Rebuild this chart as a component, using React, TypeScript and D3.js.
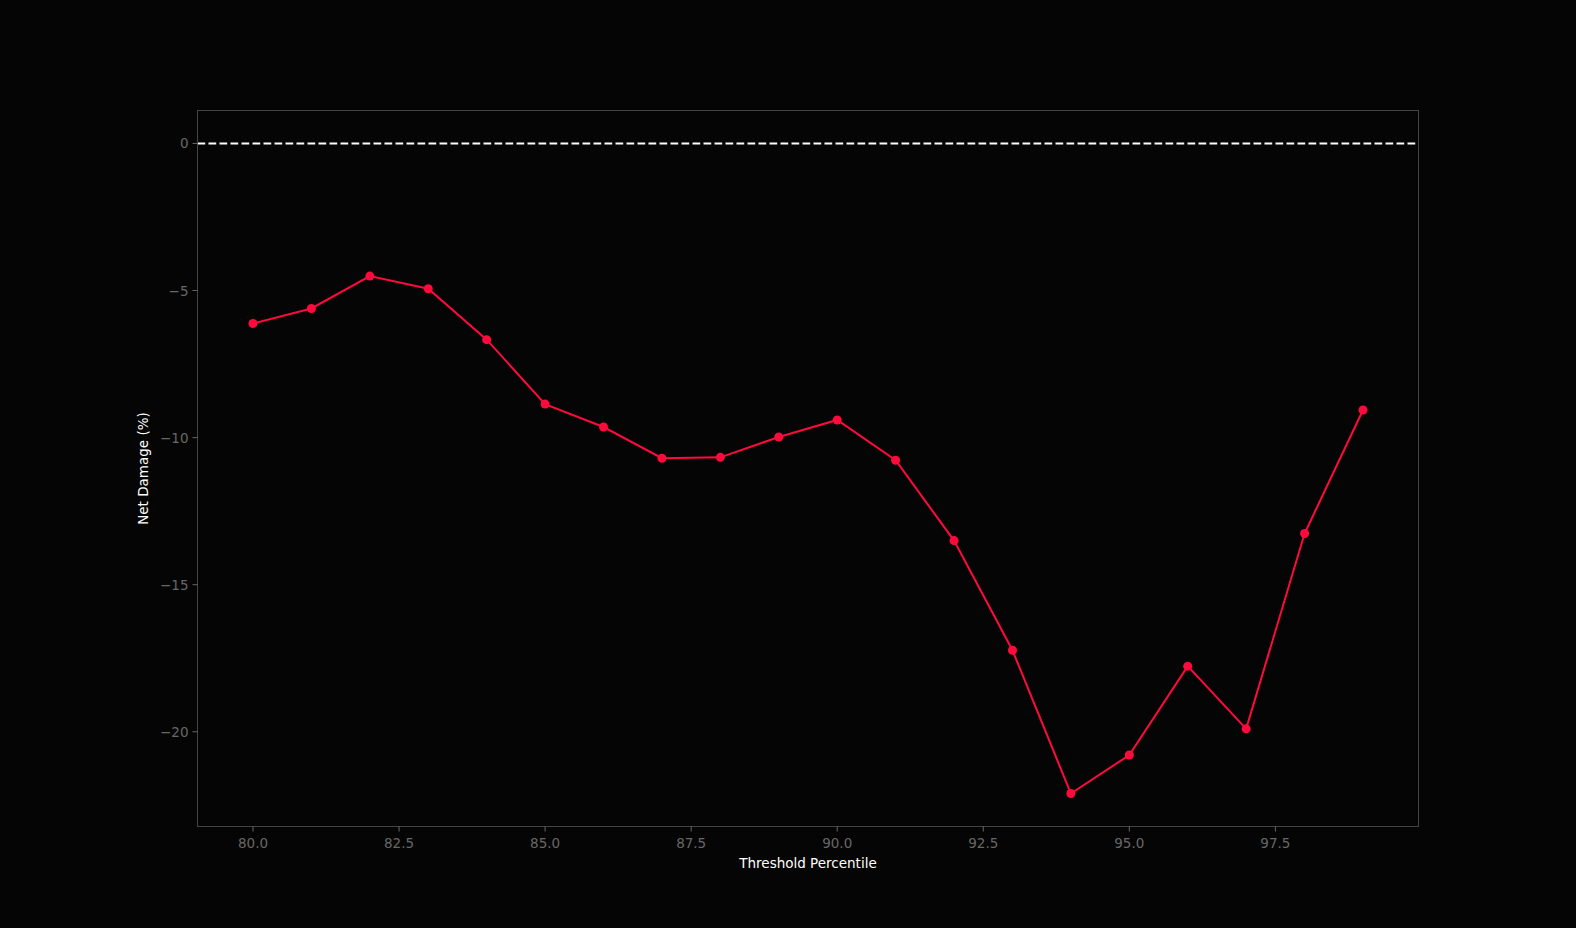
import React from "react";
import * as d3 from "d3";

const percentiles = [80, 81, 82, 83, 84, 85, 86, 87, 88, 89, 90, 91, 92, 93, 94, 95, 96, 97, 98, 99];
const netDamage = [-6.12, -5.61, -4.51, -4.94, -6.67, -8.86, -9.64, -10.70, -10.67, -9.98, -9.40, -10.77, -13.50, -17.23, -22.10, -20.79, -17.77, -19.90, -13.26, -9.06];
const xTicks = [80, 82.5, 85, 87.5, 90, 92.5, 95, 97.5];
const yTicks = [0, -5, -10, -15, -20];

const W = 1576, H = 928;
const L = 197.5, R = 1418.5, T = 110.5, B = 826.5;

export default function App() {
  const x = d3.scaleLinear().domain([79.05, 99.95]).range([L, R]);
  const y = d3.scaleLinear().domain([-23.22, 1.12]).range([B, T]);
  const line = d3.line<number>().x((_, i) => x(percentiles[i])).y((d) => y(d));
  const font = "DejaVu Sans, sans-serif";
  const tickColor = "#686868";
  const spine = "#444444";
  const red = "#ff0a3c";
  return (
    <svg width={W} height={H} style={{ position: "fixed", left: 0, top: 0, background: "#050505" }}>
      <rect x={0} y={0} width={W} height={H} fill="#050505" />
      <line x1={L} x2={R} y1={y(0)} y2={y(0)} stroke="#ffffff" strokeWidth={2} strokeDasharray="7.7 3.3" />
      <path d={line(netDamage) || ""} fill="none" stroke={red} strokeWidth={2} />
      {netDamage.map((v, i) => (
        <circle key={i} cx={x(percentiles[i])} cy={y(v)} r={4.5} fill={red} />
      ))}
      <rect x={L} y={T} width={R - L} height={B - T} fill="none" stroke={spine} strokeWidth={1} />
      {xTicks.map((t) => (
        <g key={t}>
          <line x1={x(t)} x2={x(t)} y1={B} y2={B + 5} stroke={tickColor} strokeWidth={1} />
          <text x={x(t)} y={B + 21} textAnchor="middle" fill={tickColor} fontSize={13.5} fontFamily={font}>
            {t.toFixed(1)}
          </text>
        </g>
      ))}
      {yTicks.map((t) => (
        <g key={t}>
          <line x1={L - 5} x2={L} y1={y(t)} y2={y(t)} stroke={tickColor} strokeWidth={1} />
          <text x={L - 9} y={y(t) + 5} textAnchor="end" fill={tickColor} fontSize={13.5} fontFamily={font}>
            {t === 0 ? "0" : "\u2212" + Math.abs(t)}
          </text>
        </g>
      ))}
      <text x={(L + R) / 2} y={867.5} textAnchor="middle" fill="#ffffff" fontSize={13.5} fontFamily={font}>
        Threshold Percentile
      </text>
      <text transform={`translate(148, ${(T + B) / 2}) rotate(-90)`} textAnchor="middle" fill="#ffffff" fontSize={13.5} fontFamily={font}>
        Net Damage (%)
      </text>
    </svg>
  );
}
